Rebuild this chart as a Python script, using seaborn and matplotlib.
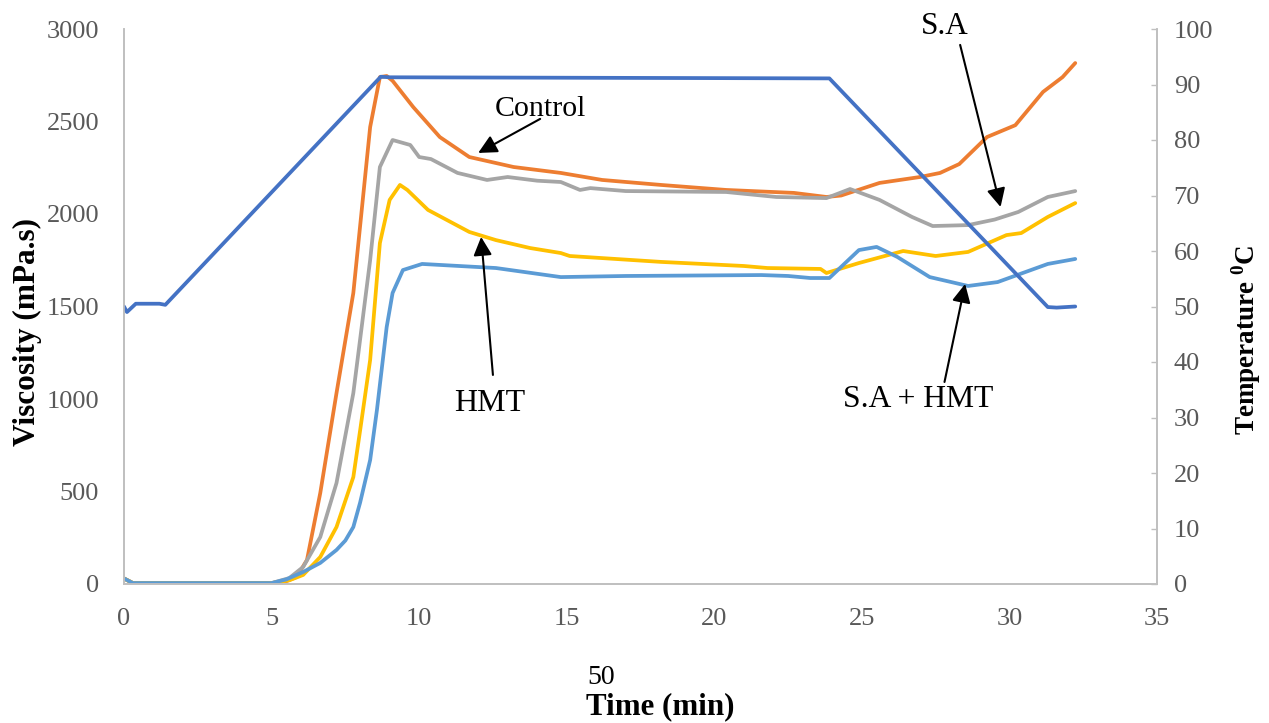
import matplotlib
matplotlib.use("Agg")
import matplotlib.pyplot as plt
import seaborn as sns
import numpy as np

# ---------------- data ----------------
t_control = [0, 0.3, 5.0, 5.5, 5.85, 6.2, 6.65, 7.2, 7.77, 8.34, 8.67, 8.9, 9.1, 9.8, 10.7, 11.7, 13.2,
             14.8, 16.2, 18.2, 20.4, 22.7, 23.8, 24.3, 25.6, 26.97, 27.65, 28.3, 29.24, 30.2, 31.14, 31.8, 32.23]
v_control = [30, 5, 5, 15, 38, 130, 492, 1032, 1573, 2470, 2740, 2746, 2720, 2578, 2416, 2308, 2254,
             2222, 2184, 2157, 2130, 2114, 2092, 2100, 2168, 2200, 2222, 2270, 2416, 2480, 2660, 2740, 2816]

t_sa = [0, 0.3, 5.0, 5.6, 6.07, 6.65, 7.2, 7.77, 8.34, 8.67, 9.1, 9.7, 10.0, 10.4, 11.3, 12.3, 13.0, 14.0,
        14.8, 15.45, 15.8, 17.0, 20.4, 22.1, 23.8, 24.6, 25.6, 26.7, 27.4, 28.6, 29.5, 30.3, 31.3, 32.23]
v_sa = [30, 5, 5, 32, 92, 254, 546, 1032, 1751, 2254, 2400, 2373, 2308, 2297, 2222, 2184, 2200, 2180,
        2173, 2130, 2140, 2124, 2119, 2092, 2086, 2135, 2076, 1984, 1935, 1940, 1970, 2011, 2092, 2124]

t_hmt = [0, 0.3, 5.0, 5.6, 6.07, 6.65, 7.2, 7.77, 8.0, 8.34, 8.67, 9.0, 9.35, 9.6, 10.3, 11.7, 12.6, 13.76,
         14.8, 15.1, 18.2, 21.0, 21.8, 23.6, 23.8, 24.9, 26.4, 27.5, 28.6, 29.9, 30.4, 31.3, 32.23]
v_hmt = [30, 5, 5, 20, 49, 146, 308, 578, 830, 1211, 1843, 2076, 2157, 2130, 2022, 1903, 1859, 1816,
         1789, 1773, 1741, 1719, 1708, 1703, 1681, 1735, 1800, 1773, 1795, 1886, 1897, 1984, 2059]

t_sahmt = [0, 0.3, 5.0, 5.5, 6.07, 6.65, 7.2, 7.5, 7.77, 8.0, 8.34, 8.57, 8.9, 9.1, 9.45, 10.1, 12.6, 14.8,
           17.0, 21.6, 22.5, 23.25, 23.9, 24.9, 25.5, 26.2, 27.3, 28.6, 29.6, 31.3, 32.23]
v_sahmt = [30, 5, 5, 25, 65, 114, 184, 235, 308, 440, 670, 941, 1389, 1573, 1697, 1730, 1708, 1659,
           1665, 1670, 1665, 1654, 1654, 1805, 1822, 1768, 1659, 1611, 1632, 1730, 1757]

t_temp = [0, 0.1, 0.4, 1.2, 1.4, 8.7, 9.0, 23.9, 31.3, 31.6, 32.23]
temp = [50, 49, 50.5, 50.5, 50.3, 91.4, 91.3, 91.1, 49.9, 49.8, 50.0]

x_ticks = [0, 5, 10, 15, 20, 25, 30, 35]
y_ticks = [0, 500, 1000, 1500, 2000, 2500, 3000]
y2_ticks = [0, 10, 20, 30, 40, 50, 60, 70, 80, 90, 100]

# ---------------- style ----------------
sns.set_theme(style="white")
plt.rcParams['font.family'] = ['Liberation Serif', 'DejaVu Serif']
plt.rcParams['mathtext.fontset'] = 'custom'
plt.rcParams['mathtext.rm'] = 'Liberation Serif'
plt.rcParams['mathtext.bf'] = 'Liberation Serif:bold'

fig = plt.figure(figsize=(12.69, 7.23), dpi=100)
ax = fig.add_axes([124 / 1269, 1 - 584 / 723, (1157 - 124) / 1269, (584 - 29) / 723])
ax2 = ax.twinx()

lw = 2.7
sns.lineplot(x=t_control, y=v_control, ax=ax, color='#ED7D31', lw=lw, sort=False)
sns.lineplot(x=t_sa, y=v_sa, ax=ax, color='#A5A5A5', lw=lw, sort=False)
sns.lineplot(x=t_hmt, y=v_hmt, ax=ax, color='#FFC000', lw=lw, sort=False)
sns.lineplot(x=t_sahmt, y=v_sahmt, ax=ax, color='#5B9BD5', lw=lw, sort=False)
sns.lineplot(x=t_temp, y=temp, ax=ax2, color='#4472C4', lw=lw, sort=False)
for a in (ax, ax2):
    for ln in a.lines:
        ln.set_solid_joinstyle('round')
        ln.set_solid_capstyle('round')

ax.set_xlim(0, 35)
ax.set_ylim(0, 3000)
ax2.set_ylim(0, 100)
ax.set_xticks(x_ticks)
ax.set_yticks(y_ticks)
ax2.set_yticks(y2_ticks)

tick_col = '#595959'
spine_col = '#BFBFBF'
ax.tick_params(axis='y', labelsize=19, colors=tick_col, length=0, pad=18)
ax.tick_params(axis='x', labelsize=19, colors=tick_col, length=0, pad=17)
ax2.tick_params(axis='y', labelsize=19, colors=tick_col, direction='in', length=4, width=1,
                color=spine_col, pad=12)
for a in (ax, ax2):
    a.spines['top'].set_visible(False)
    for s in ('left', 'bottom', 'right'):
        a.spines[s].set_color(spine_col)
        a.spines[s].set_linewidth(1.2)
ax.grid(False)
ax2.grid(False)

ax.set_ylabel('Viscosity (mPa.s)', fontsize=22.5, fontweight='bold', color='black')
ax.yaxis.set_label_coords((42 - 124) / 1033, (584 - 332) / 555)
ax2.set_ylabel(r'Temperature $^{\mathbf{0}}$C', fontsize=19.5, fontweight='bold', color='black')
ax2.yaxis.set_label_coords((1229 - 124) / 1033, (584 - 340) / 555)
ax.set_xlabel('')

# stray text and x label
fig.text(601 / 1269, 1 - 677 / 723, '50', fontsize=20, color='black', ha='center', va='center')
fig.text(660 / 1269, 1 - 707 / 723, 'Time (min)', fontsize=22.3, fontweight='bold', color='black',
         ha='center', va='center')

# annotations
arrow = dict(arrowstyle='-|>', color='black', lw=1.5, mutation_scale=28, shrinkA=0, shrinkB=0)
ax.annotate('', xy=(12.0, 2330), xytext=(14.1, 2514), arrowprops=arrow, zorder=10)
ax.text(14.1, 2568, 'Control', fontsize=21.5, ha='center', va='center', color='black')

ax.annotate('', xy=(12.1, 1876), xytext=(12.5, 1130), arrowprops=arrow, zorder=10)
ax.text(12.4, 978, 'HMT', fontsize=23, ha='center', va='center', color='black')

ax.annotate('', xy=(29.7, 2038), xytext=(28.33, 2914), arrowprops=arrow, zorder=10,
            annotation_clip=False)
ax.text(27.8, 3011, 'S.A', fontsize=22.5, ha='center', va='center', color='black', clip_on=False)

ax.annotate('', xy=(28.5, 1622), xytext=(27.8, 1092), arrowprops=arrow, zorder=10)
ax.text(26.9, 995, 'S.A + HMT', fontsize=22.8, ha='center', va='center', color='black')

fig.savefig('out.png', dpi=100)
